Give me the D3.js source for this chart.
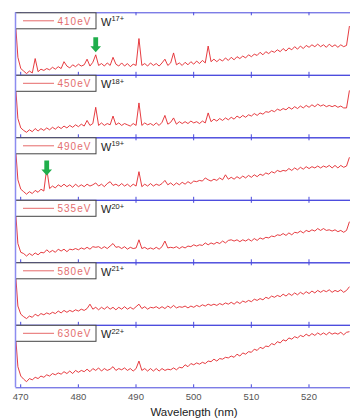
<!DOCTYPE html>
<html>
<head>
<meta charset="utf-8">
<script src="https://cdn.jsdelivr.net/npm/d3@7"></script>
<style>
  body { margin: 0; background: #fff; }
  svg { display: block; font-family: "Liberation Sans", Arial, sans-serif; }
</style>
</head>
<body>
<svg id="chart" width="350" height="419"></svg>
<script>
// x grid of the spectra (nm), one point every 0.5 nm
const wlStart = 469.1;
const wlStep = 0.5;

const energies = ['410eV', '450eV', '490eV', '535eV', '580eV', '630eV'];
const ions = ['17+', '18+', '19+', '20+', '21+', '22+'];
const ticks = [470, 480, 490, 500, 510, 520];

// intensities, in % of panel height
const s410 = [
  95, 28, 10, 6, 2, 6, 3, 26, 5, 9,
  7, 10, 8, 12, 9, 13, 10, 21, 14, 11,
  16, 13, 17, 14, 16, 25, 14, 20, 32, 15,
  18, 14, 19, 15, 28, 17, 14, 19, 14, 18,
  13, 17, 15, 58, 15, 18, 14, 19, 15, 18,
  14, 19, 25, 15, 19, 35, 16, 19, 15, 20,
  16, 21, 17, 22, 18, 23, 19, 46, 21, 25,
  21, 25, 22, 27, 23, 28, 24, 29, 26, 30,
  27, 32, 29, 33, 31, 36, 32, 37, 34, 38,
  36, 40, 37, 42, 38, 43, 40, 45, 41, 46,
  42, 47, 44, 48, 45, 49, 45, 48, 44, 49,
  45, 48, 44, 48, 45, 47, 78
];
const s450 = [
  95, 30, 15, 11, 8, 12, 9, 14, 10, 14,
  11, 15, 12, 16, 13, 17, 14, 18, 15, 19,
  16, 20, 17, 21, 18, 27, 19, 22, 48, 19,
  23, 19, 22, 20, 34, 20, 23, 19, 22, 20,
  18, 22, 19, 55, 19, 23, 20, 22, 19, 23,
  19, 24, 35, 21, 24, 31, 21, 25, 22, 25,
  22, 26, 23, 25, 22, 26, 23, 39, 25, 29,
  26, 30, 27, 31, 28, 32, 29, 34, 31, 35,
  32, 36, 34, 38, 35, 39, 37, 41, 40, 43,
  41, 45, 43, 46, 44, 48, 45, 49, 46, 50,
  47, 51, 48, 52, 49, 53, 50, 52, 49, 51,
  49, 51, 48, 50, 47, 47, 75
];
const s490 = [
  95, 32, 17, 13, 9, 13, 10, 15, 12, 17,
  14, 50, 18, 22, 19, 24, 21, 25, 21, 24,
  20, 25, 21, 24, 21, 25, 22, 24, 27, 22,
  25, 21, 26, 29, 23, 25, 22, 26, 22, 25,
  21, 25, 22, 45, 21, 25, 22, 26, 22, 25,
  23, 26, 31, 24, 27, 23, 27, 24, 28, 25,
  29, 26, 30, 29, 31, 30, 35, 32, 30, 33,
  31, 35, 32, 40, 33, 36, 33, 37, 34, 38,
  35, 39, 36, 40, 37, 41, 39, 43, 41, 45,
  43, 47, 45, 47, 46, 50, 47, 51, 48, 52,
  49, 53, 50, 53, 51, 54, 51, 54, 52, 55,
  51, 55, 51, 55, 52, 54, 68
];
const s535 = [
  95, 30, 16, 14, 10, 14, 11, 15, 12, 16,
  15, 20, 16, 19, 16, 21, 18, 21, 17, 21,
  20, 22, 20, 23, 21, 24, 21, 25, 24, 25,
  22, 25, 22, 26, 30, 24, 25, 22, 25, 21,
  24, 22, 23, 36, 22, 24, 21, 23, 21, 24,
  21, 25, 34, 23, 24, 23, 25, 22, 25, 23,
  26, 25, 28, 26, 28, 27, 31, 28, 31, 29,
  32, 30, 34, 31, 35, 36, 34, 36, 33, 36,
  34, 37, 34, 38, 35, 39, 37, 40, 39, 42,
  41, 44, 43, 46, 43, 47, 44, 48, 47, 50,
  47, 51, 49, 52, 50, 54, 51, 54, 51, 52,
  50, 52, 49, 51, 48, 51, 65
];
const s580 = [
  95, 30, 17, 13, 10, 14, 12, 17, 14, 18,
  16, 19, 17, 20, 18, 22, 19, 23, 20, 23,
  21, 24, 22, 25, 23, 26, 33, 25, 28, 24,
  28, 25, 29, 25, 28, 24, 28, 25, 29, 25,
  28, 25, 29, 33, 26, 29, 25, 28, 27, 29,
  26, 29, 26, 30, 27, 31, 27, 29, 28, 30,
  27, 30, 28, 31, 29, 32, 30, 33, 31, 33,
  31, 34, 32, 35, 33, 36, 33, 37, 34, 38,
  36, 39, 37, 41, 39, 42, 40, 44, 42, 46,
  44, 47, 45, 49, 46, 50, 47, 51, 48, 52,
  49, 53, 50, 54, 51, 55, 52, 55, 53, 56,
  52, 55, 53, 56, 52, 55, 61
];
const s630 = [
  95, 33, 18, 13, 9, 14, 12, 16, 14, 18,
  16, 20, 18, 22, 20, 23, 21, 25, 22, 26,
  22, 27, 24, 27, 25, 29, 25, 30, 27, 31,
  26, 30, 27, 29, 33, 27, 30, 28, 31, 27,
  30, 26, 30, 42, 27, 30, 26, 30, 26, 30,
  26, 30, 27, 29, 28, 31, 28, 32, 31, 36,
  33, 38, 36, 39, 37, 40, 38, 42, 41, 45,
  42, 46, 45, 48, 47, 50, 48, 53, 50, 55,
  53, 57, 56, 61, 59, 64, 62, 66, 65, 70,
  68, 73, 71, 76, 74, 79, 77, 81, 79, 83,
  81, 85, 82, 86, 83, 87, 84, 87, 84, 88,
  85, 87, 85, 88, 84, 88, 89
];

const series = [s410, s450, s490, s535, s580, s630];
const wavelength = s410.map((_, i) => wlStart + i * wlStep);

// green markers: panel index, wavelength, tip height (% of panel)
const arrows = [
  { panel: 0, wl: 483.1, tip: 36 },
  { panel: 2, wl: 474.6, tip: 39 }
];

const plotLeft = 15;
const plotRight = 350;
const plotTop = 12.3;
const panelH = 62.5;
const axisColor = '#4646dc';

const svg = d3.select('#chart');

const x = d3.scaleLinear()
  .domain([469.1, 527.2])
  .range([plotLeft, plotRight]);

const y = d3.scaleLinear()
  .domain([0, 100])
  .range([panelH, 0]);

svg.append('defs').append('clipPath')
  .attr('id', 'clip')
  .append('rect')
  .attr('x', plotLeft)
  .attr('y', 0)
  .attr('width', plotRight - plotLeft)
  .attr('height', panelH);

const line = d3.line()
  .x((d, i) => x(wavelength[i]))
  .y(d => y(d));

series.forEach((s, k) => {
  const g = svg.append('g')
    .attr('transform', `translate(0,${plotTop + k * panelH})`);

  g.append('path')
    .datum(s)
    .attr('d', line)
    .attr('fill', 'none')
    .attr('stroke', '#e3262b')
    .attr('stroke-width', 0.9)
    .attr('clip-path', 'url(#clip)');

  // inward ticks top and bottom of every panel
  g.append('g')
    .attr('transform', `translate(0,${panelH})`)
    .attr('color', axisColor)
    .call(d3.axisBottom(x).tickValues(ticks).tickSizeInner(-3).tickSizeOuter(0).tickFormat(''));
  g.append('g')
    .attr('color', axisColor)
    .call(d3.axisTop(x).tickValues(ticks).tickSizeInner(-3).tickSizeOuter(0).tickFormat(''));

  // legend box
  g.append('rect')
    .attr('x', 15.5)
    .attr('y', 0.5)
    .attr('width', 80.5)
    .attr('height', 16)
    .attr('fill', '#fff')
    .attr('stroke', '#444')
    .attr('stroke-width', 1);
  g.append('line')
    .attr('x1', 23).attr('x2', 54)
    .attr('y1', 8.5).attr('y2', 8.5)
    .attr('stroke', '#e66a6a')
    .attr('stroke-width', 1);
  g.append('text')
    .attr('x', 57.5)
    .attr('y', 12.4)
    .attr('font-size', 10)
    .attr('letter-spacing', 1)
    .attr('fill', '#e46e6e')
    .text(energies[k]);

  const ion = g.append('text')
    .attr('x', 101)
    .attr('y', 13.5)
    .attr('font-size', 11)
    .attr('fill', '#222')
    .text('W');
  ion.append('tspan')
    .attr('font-size', 7.5)
    .attr('dy', -4.5)
    .text(ions[k]);
});

// left axis line
svg.append('line')
  .attr('x1', plotLeft + 0.5).attr('x2', plotLeft + 0.5)
  .attr('y1', plotTop).attr('y2', plotTop + panelH * series.length)
  .attr('stroke', '#8c8cf0')
  .attr('stroke-width', 1.5);

// markers
arrows.forEach(a => {
  const cx = x(a.wl);
  const tipY = plotTop + a.panel * panelH + y(a.tip);
  const pts = [
    [cx - 2.4, tipY - 15], [cx + 2.4, tipY - 15],
    [cx + 2.4, tipY - 6], [cx + 5.3, tipY - 6],
    [cx, tipY], [cx - 5.3, tipY - 6], [cx - 2.4, tipY - 6]
  ];
  svg.append('polygon')
    .attr('points', pts.map(p => p.join(',')).join(' '))
    .attr('fill', '#1fae4b');
});

// x tick labels
const bottom = plotTop + panelH * series.length;
const xAxis = svg.append('g')
  .attr('transform', `translate(0,${bottom})`)
  .call(d3.axisBottom(x).tickValues(ticks).tickSize(0).tickPadding(6));
xAxis.select('.domain').remove();
xAxis.selectAll('text')
  .attr('font-size', 9.5)
  .attr('font-family', '"Liberation Sans", Arial, sans-serif')
  .attr('fill', '#555');

svg.append('text')
  .attr('x', 194)
  .attr('y', 415.5)
  .attr('text-anchor', 'middle')
  .attr('font-size', 11.5)
  .attr('fill', '#222')
  .text('Wavelength (nm)');
</script>
</body>
</html>
